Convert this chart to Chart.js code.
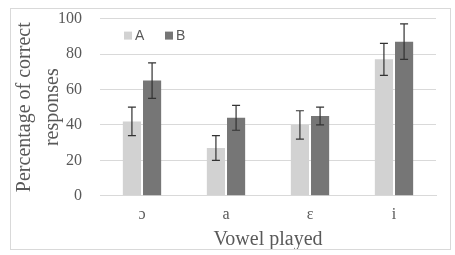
<!DOCTYPE html>
<html><head><meta charset="utf-8">
<script src="https://cdn.jsdelivr.net/npm/chart.js@4/dist/chart.umd.min.js"></script>
<style>
html,body{margin:0;padding:0;background:#fff;}
#box{position:absolute;left:10px;top:8px;width:439px;height:240px;border:1px solid #d9d9d9;}
canvas{display:block;}
</style></head><body>
<div id="box"><canvas id="c" width="439" height="240"></canvas></div>
<script>
const categories = ["ɔ", "a", "ɛ", "i"];
const seriesNames = ["A", "B"];
const seriesA = [42, 27, 40, 77];
const seriesB = [65, 44, 45, 87];
const errA = [8, 7, 8, 9];
const errB = [10, 7, 5, 10];
const yTicks = [0, 20, 40, 60, 80, 100];
const colors = ['#d2d2d2', '#767676'];

const errorBars = {
  id: 'errorBars',
  afterDatasetsDraw(chart) {
    const ctx = chart.ctx, y = chart.scales.y;
    const errs = [errA, errB];
    chart.data.datasets.forEach((ds, di) => {
      const meta = chart.getDatasetMeta(di);
      meta.data.forEach((bar, i) => {
        const v = ds.data[i], e = errs[di][i];
        const top = y.getPixelForValue(v + e), bot = y.getPixelForValue(v - e);
        ctx.save();
        ctx.strokeStyle = '#333';
        ctx.lineWidth = 1.2;
        ctx.beginPath();
        ctx.moveTo(bar.x, top); ctx.lineTo(bar.x, bot);
        ctx.moveTo(bar.x - 4, top); ctx.lineTo(bar.x + 4, top);
        ctx.moveTo(bar.x - 4, bot); ctx.lineTo(bar.x + 4, bot);
        ctx.stroke();
        ctx.restore();
      });
    });
  }
};

const inlineLegend = {
  id: 'inlineLegend',
  afterDraw(chart) {
    const ctx = chart.ctx, ca = chart.chartArea;
    let x = ca.left + 24;
    const yc = ca.top + 17;
    ctx.save();
    ctx.font = '14px "Liberation Sans"';
    ctx.textBaseline = 'middle';
    chart.data.datasets.forEach((ds, i) => {
      ctx.fillStyle = ds.backgroundColor;
      ctx.fillRect(x, yc - 4, 8, 8);
      ctx.fillStyle = '#595959';
      ctx.fillText(ds.label, x + 11, yc + 1);
      x += 41;
    });
    ctx.restore();
  }
};

new Chart(document.getElementById('c'), {
  type: 'bar',
  data: {
    labels: categories,
    datasets: [
      {label: seriesNames[0], data: seriesA, backgroundColor: colors[0], categoryPercentage: 0.48, barPercentage: 0.9},
      {label: seriesNames[1], data: seriesB, backgroundColor: colors[1], categoryPercentage: 0.48, barPercentage: 0.9}
    ]
  },
  options: {
    responsive: false,
    animation: false,
    layout: {padding: {top: 0, right: 14, left: 0, bottom: 0}},
    plugins: {
      legend: {display: false},
      tooltip: {enabled: false}
    },
    scales: {
      x: {
        grid: {display: true, drawOnChartArea: false, drawTicks: true, tickLength: 9, tickColor: 'transparent', color: 'transparent'},
        border: {color: '#d9d9d9'},
        ticks: {color: '#595959', font: {family: 'Liberation Serif', size: 16}, padding: 0},
        title: {display: true, text: 'Vowel played', color: '#595959', font: {family: 'Liberation Serif', size: 20, lineHeight: 1.0}, padding: {top: 6, bottom: -1}}
      },
      y: {
        min: 0, max: 100,
        afterBuildTicks: (s) => { s.ticks = yTicks.map(v => ({value: v})); },
        grid: {color: '#d9d9d9', drawTicks: true, tickLength: 18, tickColor: 'transparent'},
        border: {display: false},
        ticks: {color: '#595959', font: {family: 'Liberation Serif', size: 16}, padding: 0},
        title: {display: true, text: ['Percentage of correct', 'responses'], color: '#595959', font: {family: 'Liberation Serif', size: 20, lineHeight: 1.4}, padding: {top: 0, bottom: -9}}
      }
    }
  },
  plugins: [errorBars, inlineLegend]
});
</script>
</body></html>
